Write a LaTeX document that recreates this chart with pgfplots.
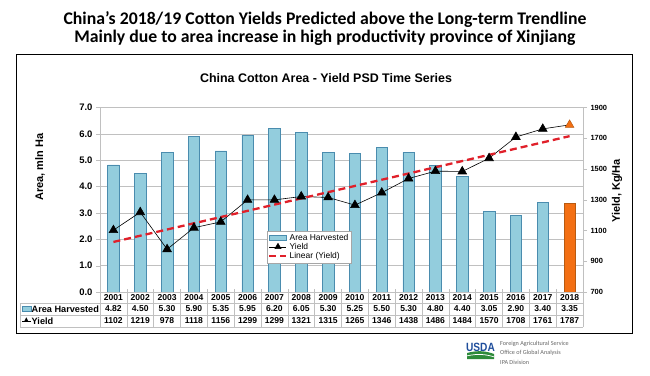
\documentclass[border=0pt]{standalone}
\usepackage{pgfplots}
\pgfplotsset{compat=1.18}
\usepackage{pgfplotstable}
\usepackage{fontspec}
\setmainfont{Liberation Sans}
\newfontfamily\calibri{Carlito}
\newfontfamily\dejavu{DejaVu Sans}
\definecolor{barblue}{HTML}{93CDDD}
\definecolor{baredge}{HTML}{4A8CAE}
\definecolor{barorange}{HTML}{F36F13}
\definecolor{orangeedge}{HTML}{B85A10}
\definecolor{trendred}{HTML}{E0202A}
\definecolor{gridgray}{HTML}{C0C0C0}
\definecolor{usdablue}{HTML}{1F4E9C}
\definecolor{usdagreen}{HTML}{2E8B3A}

\pgfplotstableread{
idx year area yield
1 2001 4.82 1102
2 2002 4.50 1219
3 2003 5.30 978
4 2004 5.90 1118
5 2005 5.35 1156
6 2006 5.95 1299
7 2007 6.20 1299
8 2008 6.05 1321
9 2009 5.30 1315
10 2010 5.25 1265
11 2011 5.50 1346
12 2012 5.30 1438
13 2013 4.80 1486
14 2014 4.40 1484
15 2015 3.05 1570
16 2016 2.90 1708
17 2017 3.40 1761
}\data
\pgfplotstableread{
idx year area yield
18 2018 3.35 1787
}\datalast

\begin{document}
\begin{tikzpicture}[x=1bp,y=1bp]
\path[use as bounding box] (0,0) rectangle (650,375);
% page titles
\node[font=\calibri\bfseries\fontsize{17.8}{18}\selectfont] at (325,355.5) {China’s 2018/19 Cotton Yields Predicted above the Long-term Trendline};
\node[font=\calibri\bfseries\fontsize{17.8}{18}\selectfont] at (325,337) {Mainly due to area increase in high productivity province of Xinjiang};
% frame
\draw[line width=0.9bp] (16,321) rectangle (632,42);
\node[font=\bfseries\fontsize{12.5}{13}\selectfont] at (326,297) {China Cotton Area - Yield PSD Time Series};

% left axis: bars
\begin{axis}[
  at={(100bp,83bp)}, anchor=south west,
  scale only axis, width=483bp, height=184.5bp,
  xmin=0.5, xmax=18.5, ymin=0, ymax=7,
  axis x line=none, axis y line*=left,
  axis line style={gridgray},
  ytick={0,1,...,7},
  ymajorgrids, grid style={gridgray, line width=0.6bp},
  tick align=outside, major tick length=4bp, ytick style={gridgray},
  yticklabel style={font=\bfseries\fontsize{9.5}{10}\selectfont, /pgf/number format/.cd, fixed, fixed zerofill, precision=1, assume math mode=true},
  xtick=\empty,
]
\addplot[ybar, bar shift=0pt, bar width=11.5bp, fill=barblue, draw=baredge, line width=0.5bp] table[x=idx,y=area] {\data};
\addplot[ybar, bar shift=0pt, bar width=11.5bp, fill=barorange, draw=orangeedge, line width=0.5bp] table[x=idx,y=area] {\datalast};
\end{axis}

% right axis: yield
\begin{axis}[
  at={(100bp,83bp)}, anchor=south west,
  scale only axis, width=483bp, height=184.5bp,
  xmin=0.5, xmax=18.5, ymin=700, ymax=1900,
  axis x line=none, axis y line*=right,
  axis line style={gridgray},
  ytick={700,900,...,1900},
  tick align=outside, major tick length=4bp, ytick style={gridgray},
  yticklabel style={font=\bfseries\fontsize{7.5}{8}\selectfont, /pgf/number format/.cd, 1000 sep={}, assume math mode=true},
  xtick=\empty,
  legend style={at={(0.346,0.332)}, anchor=north west, draw=gray!70, fill=white,
    font=\fontsize{8.5}{9}\selectfont, inner sep=1bp, row sep=-2.5bp,
    cells={anchor=west}},
  legend cell align=left,
]
\addlegendimage{area legend, fill=barblue, draw=baredge}
\addlegendentry{Area Harvested}
\addlegendimage{black, line width=0.6bp, mark=triangle*, mark size=3.5bp, mark options={fill=black, solid}}
\addlegendentry{Yield}
\addplot[forget plot, black, line width=0.6bp, mark=triangle*, mark size=5bp, mark options={fill=black, solid}] table[x=idx,y=yield] {\data};
\addplot[trendred, line width=2.3bp, dash pattern=on 7bp off 4bp] coordinates {(1,1025.5) (18,1713.6)};
\addlegendentry{Linear (Yield)}
\addplot[forget plot, black, line width=0.6bp] coordinates {(17,1761) (18,1787)};
\addplot[forget plot, only marks, mark=triangle*, mark size=5bp, mark options={fill=barorange, draw=orangeedge, line width=0.5bp}] table[x=idx,y=yield] {\datalast};
\end{axis}

% axis titles
\node[rotate=90, font=\bfseries\fontsize{11}{12}\selectfont] at (40,208) {Area, mln Ha};
\node[rotate=90, font=\bfseries\fontsize{11}{12}\selectfont] at (617,184) {Yield, Kg/Ha};

% data table
\draw[gridgray, line width=0.6bp] (100,83) -- (583,83);
\draw[gridgray, line width=0.6bp] (20,72) -- (583,72);
\draw[gridgray, line width=0.6bp] (20,60) -- (583,60);
\draw[gridgray, line width=0.6bp] (20,48) -- (583,48);
\draw[gridgray, line width=0.6bp] (20,72) -- (20,48);
\foreach \k in {0,...,18} {
  \draw[gridgray, line width=0.6bp] ({100+\k*26.8333},86) -- ({100+\k*26.8333},48);
}
\foreach \i/\yr/\ar/\yl in {1/2001/4.82/1102, 2/2002/4.50/1219, 3/2003/5.30/978, 4/2004/5.90/1118, 5/2005/5.35/1156, 6/2006/5.95/1299, 7/2007/6.20/1299, 8/2008/6.05/1321, 9/2009/5.30/1315, 10/2010/5.25/1265, 11/2011/5.50/1346, 12/2012/5.30/1438, 13/2013/4.80/1486, 14/2014/4.40/1484, 15/2015/3.05/1570, 16/2016/2.90/1708, 17/2017/3.40/1761, 18/2018/3.35/1787} {
  \node[font=\bfseries\fontsize{8.6}{9}\selectfont] at ({100+(\i-0.5)*26.8333},77.5) {\yr};
  \node[font=\bfseries\fontsize{8.6}{9}\selectfont] at ({100+(\i-0.5)*26.8333},66) {\ar};
  \node[font=\bfseries\fontsize{8.6}{9}\selectfont] at ({100+(\i-0.5)*26.8333},54) {\yl};
}
\draw[fill=barblue, draw=baredge, line width=0.4bp] (22,63.5) rectangle (31,68.5);
\node[anchor=west, font=\bfseries\fontsize{9.2}{10}\selectfont, inner sep=0] at (31.5,66) {Area Harvested};
\draw[black, line width=0.5bp] (22,54) -- (31,54);
\node[font=\dejavu\fontsize{6}{6}\selectfont, inner sep=0] at (26.5,54.8) {▲};
\node[anchor=west, font=\bfseries\fontsize{9.2}{10}\selectfont, inner sep=0] at (31.5,54) {Yield};

% USDA logo
\node[font=\bfseries\fontsize{12}{12}\selectfont, usdablue, inner sep=0, xscale=0.85] at (480.5,28) {USDA};
\fill[usdagreen] (467,22) .. controls (478,25) and (486,24) .. (494,21) -- (494,16) -- (467,16) -- cycle;
\fill[white] (467,19.5) .. controls (478,22) and (486,21) .. (494,18.5) -- (494,17.8) .. controls (486,20.2) and (478,21.2) .. (467,18.8) -- cycle;
\node[anchor=west, font=\calibri\fontsize{6.2}{6.5}\selectfont, gray!80!black, inner sep=0] at (500,31) {Foreign Agricultural Service};
\node[anchor=west, font=\calibri\fontsize{6.2}{6.5}\selectfont, gray!80!black, inner sep=0] at (500,22) {Office of Global Analysis};
\node[anchor=west, font=\calibri\fontsize{6.2}{6.5}\selectfont, gray!80!black, inner sep=0] at (500,13) {IPA Division};
\end{tikzpicture}
\end{document}
